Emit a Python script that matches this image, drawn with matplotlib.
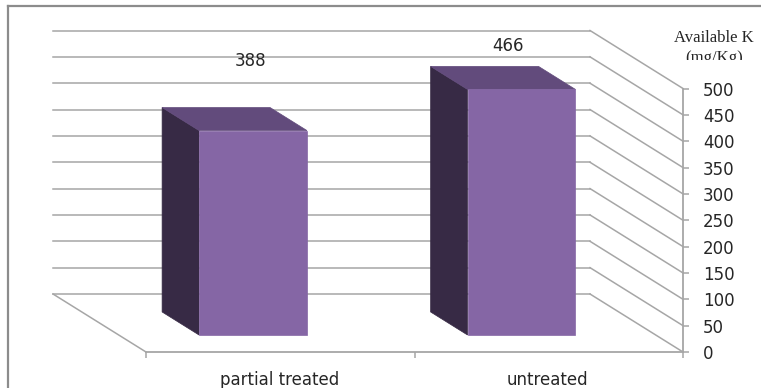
import matplotlib.pyplot as plt
from matplotlib.patches import Polygon, Rectangle

plt.rcParams["font.family"] = ["DejaVu Sans"]

categories = ["partial treated", "untreated"]
values = [388, 466]
y_ticks = [0, 50, 100, 150, 200, 250, 300, 350, 400, 450, 500]

W, H = 761, 388
GRID = "#a6a6a6"
FRONT = "#8566a5"
TOP = "#624b7c"
SIDE = "#372a45"

# shift of the back wall, in category units and value units
DEPTH_X = -93 / 268.5
DEPTH_Y = 58 / 0.527
BAR_W = 0.402
BAR_NEAR = 0.293
BAR_FAR = 0.69

# value labels sit by hand above each bar, offsets in points from the front top edge
LABEL_OFFSETS = [(-2, 50), (-10, 31)]


def shifted(x, y, depth):
    return (x + DEPTH_X * depth, y + DEPTH_Y * depth)


def draw_bar(ax, center, value):
    x0, x1 = center - BAR_W / 2, center + BAR_W / 2
    near = [shifted(x0, 0, BAR_NEAR), shifted(x1, 0, BAR_NEAR),
            shifted(x1, value, BAR_NEAR), shifted(x0, value, BAR_NEAR)]
    side = [shifted(x0, 0, BAR_NEAR), shifted(x0, value, BAR_NEAR),
            shifted(x0, value, BAR_FAR), shifted(x0, 0, BAR_FAR)]
    top = [shifted(x0, value, BAR_NEAR), shifted(x1, value, BAR_NEAR),
           shifted(x1, value, BAR_FAR), shifted(x0, value, BAR_FAR)]
    for pts, col in [(side, SIDE), (top, TOP), (near, FRONT)]:
        ax.add_patch(Polygon(pts, closed=True, facecolor=col, edgecolor=col,
                             linewidth=0.5, clip_on=False, zorder=3))


fig = plt.figure(figsize=(W / 100, H / 100), dpi=100)
ax = fig.add_axes([146 / W, 1 - 352 / H, 537 / W, 263.5 / H])
ax.set_xlim(0, 2)
ax.set_ylim(0, 500)
ax.patch.set_visible(False)

for side in ["top", "left"]:
    ax.spines[side].set_visible(False)
for side in ["right", "bottom"]:
    ax.spines[side].set_color(GRID)
    ax.spines[side].set_linewidth(1.3)

# back wall grid and floor edge
for v in y_ticks:
    bx, by = shifted(2, v, 1)
    ax.plot([2, bx], [v, by], color=GRID, lw=1.1, clip_on=False, zorder=1)
    if v > 0:
        lx, _ = shifted(0, v, 1)
        ax.plot([lx, bx], [by, by], color=GRID, lw=1.1, clip_on=False, zorder=1)
lx, ly = shifted(0, 0, 1)
bx, by = shifted(2, 0, 1)
ax.plot([lx, bx], [ly, by], color=GRID, lw=1.1, clip_on=False, zorder=1)
ax.plot([0, lx], [0, ly], color=GRID, lw=1.1, clip_on=False, zorder=1)

for i, v in enumerate(values):
    draw_bar(ax, i + 0.5, v)
    ax.annotate(str(v), xy=shifted(i + 0.5, v, BAR_NEAR), xytext=LABEL_OFFSETS[i],
                textcoords="offset points", ha="center", va="center", fontsize=12,
                color="#262626", zorder=4, annotation_clip=False)

ax.yaxis.tick_right()
ax.set_yticks(y_ticks)
ax.tick_params(axis="y", length=4.3, width=1.1, color=GRID, pad=10, labelsize=12,
               labelcolor="#262626", direction="out")
ax.set_xticks([0, 1, 2])
ax.set_xticklabels([])
ax.tick_params(axis="x", length=4, width=1.1, color=GRID, direction="out")
for i, c in enumerate(categories):
    ax.annotate(c, xy=(i + 0.5, 0), xytext=(-0.7, -20), textcoords="offset points",
                ha="center", va="center", fontsize=12, color="#262626",
                annotation_clip=False)

# axis title, its second line runs into the chart area's edge
fig.text(714 / W, 1 - 38 / H, "Available K", ha="center", va="center",
         family="Liberation Serif", fontsize=12, color="#262626")
unit = fig.text(714 / W, 1 - 58 / H, "(mg/Kg)", ha="center", va="center",
                family="Liberation Serif", fontsize=12, color="#262626")
unit.set_clip_path(Rectangle((660, H - 60), 100, 14, transform=None))
unit.set_clip_on(True)

# chart frame
fig.add_artist(plt.Line2D([8 / W, 8 / W], [0, 1 - 6 / H], color="#8c8c8c", lw=1.6))
fig.add_artist(plt.Line2D([8 / W, 1], [1 - 6 / H, 1 - 6 / H], color="#8c8c8c", lw=1.6))

fig.savefig("out.png", dpi=100)
